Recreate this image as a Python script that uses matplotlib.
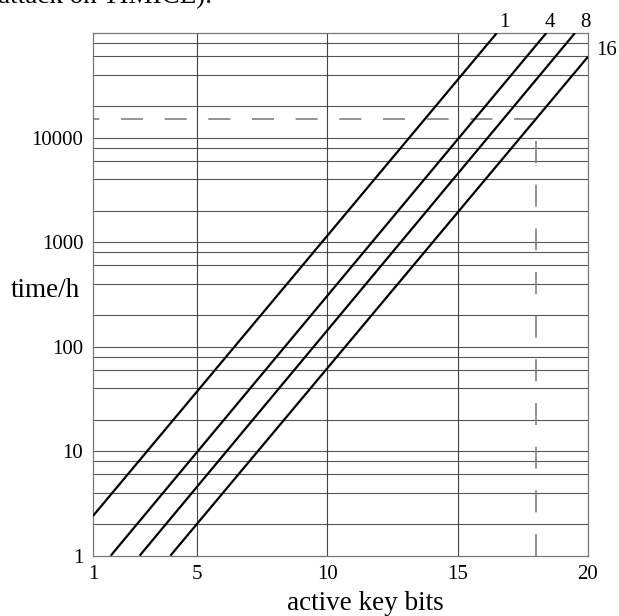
import numpy as np
import matplotlib.pyplot as plt

plt.rcParams['font.family'] = ['Liberation Serif', 'DejaVu Serif']

# end points of each line (straight on the log axis)
line_names = ['1', '4', '8', '16']
line_x = [[1.0, 16.5], [1.68, 18.4], [2.79, 19.5], [3.97, 20.0]]
line_y = [[2.4, 100000], [1, 100000], [1, 100000], [1, 59300]]

# label positions next to the line ends
label_x = [16.8, 18.55, 19.9, 20.72]
label_y = [127000, 127000, 127000, 68700]

# dashed limits
limit_time = 15000
limit_bits = 18
limit_vert_top = 9300

x_ticks = [1, 5, 10, 15, 20]
y_ticks = [1, 10, 100, 1000, 10000]
y_tick_labels = ['1', '10', '100', '1000', '10000']

fig = plt.figure(figsize=(6.19, 6.16), dpi=100)
ax = fig.add_axes([93/619, 1 - 555.7/616, 495/619, 522.7/616])

ax.set_yscale('log')
ax.set_xlim(1, 20)
ax.set_ylim(1, 100000)

# grid: 2,4,6,8 x 10^k plus decades
hlines = []
for k in range(5):
    for m in [1, 2, 4, 6, 8]:
        v = m * 10**k
        if 1 < v < 100000:
            hlines.append(v)
for v in hlines:
    ax.axhline(v, color='#555555', lw=0.8, zorder=1)
for v in [5, 10, 15]:
    ax.axvline(v, color='#444444', lw=0.8, zorder=1)

# dashed limits
ax.plot([limit_bits, 1], [limit_time, limit_time], color='#808080', lw=1.2,
        dashes=[13.2, 13.0], zorder=2)
ax.plot([limit_bits, limit_bits], [1, limit_vert_top], color='#808080', lw=1.2,
        dashes=[13.2, 13.0], zorder=2)

for xs, ys in zip(line_x, line_y):
    ax.plot(xs, ys, color='black', lw=1.6, zorder=3, solid_capstyle='butt')

for name, lx, ly in zip(line_names, label_x, label_y):
    ax.text(lx, ly, name, ha='center', va='center', fontsize=15, clip_on=False)

ax.set_xticks(x_ticks)
ax.set_xticklabels([str(t) for t in x_ticks])
ax.set_yticks(y_ticks)
ax.set_yticklabels(y_tick_labels)
ax.yaxis.set_minor_locator(plt.NullLocator())
ax.tick_params(length=0, labelsize=15)
ax.tick_params(axis='y', pad=7)
ax.tick_params(axis='x', pad=7)
for s in ax.spines.values():
    s.set_color('#777777')
    s.set_linewidth(0.9)

fig.text(365/619, (616 - 610)/616, 'active key bits', ha='center', va='baseline', fontsize=19.5)
fig.text(10.7/619, (616 - 297)/616, 'time/h', ha='left', va='baseline', fontsize=19.5)
# clipped line of the surrounding document text
fig.text(-2/619, (616 - 3)/616, 'attack on TIMICE).', ha='left', va='baseline', fontsize=19.5)

fig.savefig('out.png', dpi=100)
